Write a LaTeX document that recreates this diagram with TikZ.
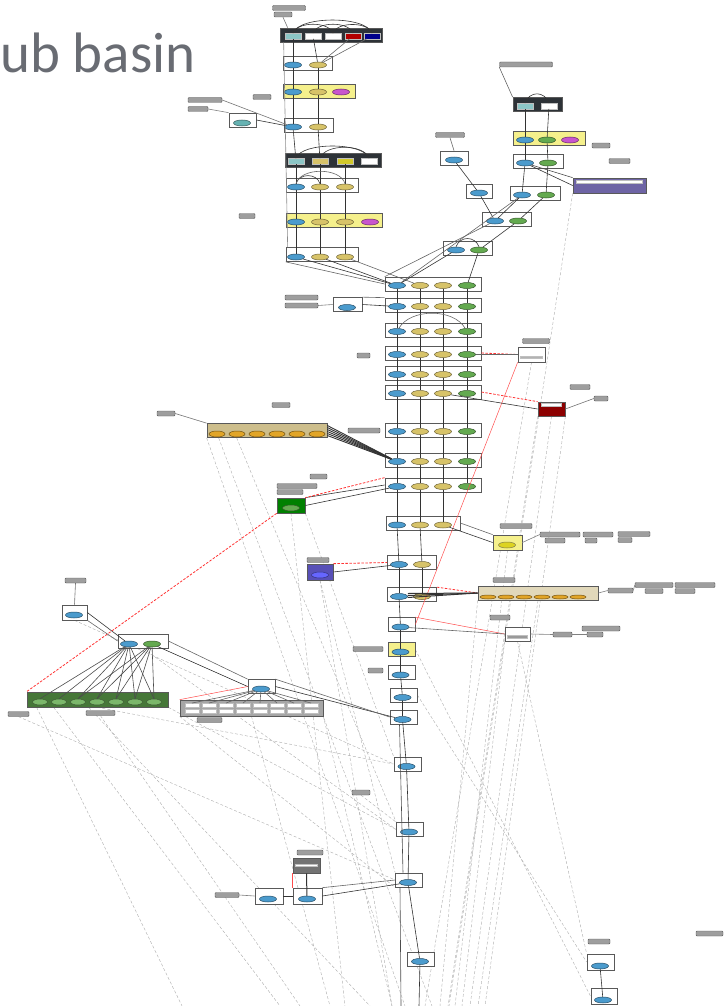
\documentclass[tikz,border=0pt]{standalone}
\usepackage{fontspec}
\setmainfont{Carlito}
\usepackage{xcolor}
\usetikzlibrary{shapes.geometric,backgrounds}

\definecolor{nodeblue}{RGB}{75,155,205}
\definecolor{nodeyel}{RGB}{215,195,105}
\definecolor{nodegrn}{RGB}{100,170,80}
\definecolor{nodemag}{RGB}{200,85,205}
\definecolor{nodeorg}{RGB}{225,165,40}
\definecolor{boxyel}{RGB}{245,240,140}
\definecolor{boxdark}{RGB}{45,50,55}
\definecolor{boxtan}{RGB}{205,190,140}
\definecolor{boxpurp}{RGB}{110,100,165}
\definecolor{titlegray}{RGB}{105,108,115}
\colorlet{nodeteal}{teal!60}
\colorlet{nodegrnl}{nodegrn!85!white}
\colorlet{nodeylw}{yellow!85!black}
\colorlet{nodeblu}{blue!60}

\begin{document}
\begin{tikzpicture}[x=1pt, y=-1pt,
    grp/.style={rectangle, draw=black!65, fill=white, line width=.7pt,
      minimum height=14pt, inner sep=0pt},
    ell/.style={ellipse, draw=#1!50!black, fill=#1, minimum width=17pt,
      minimum height=6pt, inner sep=0pt, line width=.5pt},
    sub/.style={rectangle, draw=black!25, fill=#1, minimum width=16pt,
      minimum height=5.5pt, inner sep=0pt},
    lbl/.style={rectangle, rounded corners=1pt, draw=black!65, fill=black!38,
      minimum width=#1, minimum height=5pt, inner sep=0pt, line width=.4pt},
    link/.style={draw=black!80, line width=.6pt},
    refl/.style={draw=red!80, dash pattern=on 2.5pt off 1.5pt, line width=.8pt},
    redl/.style={draw=red!70, line width=.5pt},
    ghost/.style={draw=black!30, dash pattern=on 3pt off 2pt, line width=.45pt}]

  \useasboundingbox (0,0) rectangle (725,1006);

  % title
  \node[anchor=base west, inner sep=0pt, text=titlegray,
    font=\fontsize{57}{60}\selectfont] (title) at (0,73) {ub basin};

  % top column
  \node[grp, fill=boxdark, minimum width=102pt] (t0) at (331,35) {};
  \foreach \i/\x/\c in {a/293/teal!45, b/313/white, c/333/white,
      d/353/red!70!black, e/372/blue!55!black}
    \node[sub=\c] (t0-\i) at (\x,36) {};
  \node[grp, minimum width=49pt] (t1) at (307.5,63.5) {};
  \node[ell=nodeblue] (t1-a) at (293,65) {};
  \node[ell=nodeyel] (t1-b) at (318,65) {};
  \node[grp, fill=boxyel, minimum width=72pt] (t2) at (319,91) {};
  \node[ell=nodeblue] (t2-a) at (293,92) {};
  \node[ell=nodeyel] (t2-b) at (318,92) {};
  \node[ell=nodemag] (t2-c) at (341,92) {};
  \node[grp, minimum width=49pt] (t3) at (308.5,125) {};
  \node[ell=nodeblue] (t3-a) at (293,127) {};
  \node[ell=nodeyel] (t3-b) at (318,127) {};
  \node[grp, fill=boxdark, minimum width=96pt] (t4) at (333,160) {};
  \foreach \i/\x/\c in {a/296/teal!45, b/320/nodeyel, c/345/yellow!80!black, d/369/white}
    \node[sub=\c] (t4-\i) at (\x,161) {};
  \node[grp, minimum width=72pt] (t5) at (322,185) {};
  \node[grp, fill=boxyel, minimum width=96pt] (t6) at (334,220.5) {};
  \node[grp, minimum width=72pt] (t7) at (322,254.5) {};
  \foreach \r/\y in {5/187, 6/222, 7/257} {
    \node[ell=nodeblue] (t\r-a) at (296,\y) {};
    \node[ell=nodeyel] (t\r-b) at (320,\y) {};
    \node[ell=nodeyel] (t\r-c) at (345,\y) {};
  }
  \node[ell=nodemag] (t6-d) at (370,222) {};

  \node[lbl=33] (tl1) at (289,8) {};
  \node[lbl=18] (tl2) at (283,14.5) {};
  \node[lbl=18] (tl3) at (262,97) {};
  \node[lbl=16] (tl4) at (247,216) {};
  \draw[link, black!55] (tl2.south) -- ([xshift=8pt]t0.north west);
  \draw[link, black!45] ([xshift=4pt]t0.south west) -- ([xshift=2pt]t7.north west);

  \draw[link] (t0-a) -- (t1-a);
  \draw[link] (t0-b) -- (t1-b);
  \draw[link, black!60] (t0-d) -- (t1-b);
  \draw[link, black!60] (t0-e) -- (t1-b);
  \foreach \p/\q in {1/2, 2/3, 3/4} {
    \draw[link] (t\p-a) -- (t\q-a);
    \draw[link] (t\p-b) -- (t\q-b);
  }
  \foreach \p/\q in {4/5, 5/6, 6/7} {
    \draw[link] (t\p-a) -- (t\q-a);
    \draw[link] (t\p-b) -- (t\q-b);
    \draw[link] (t\p-c) -- (t\q-c);
  }
  \draw[link] (t0-a.north) to[out=70, in=110, looseness=.6] (t0-e.north);
  \draw[link] (t0-a.north) to[out=70, in=110, looseness=.8] (t0-c.north);
  \draw[link] (t0-b.north) to[out=70, in=110, looseness=.8] (t0-d.north);
  \draw[link] (t0-c.north) to[out=70, in=110, looseness=.8] (t0-e.north);
  \draw[link] (t4-a.north) to[out=70, in=110, looseness=.6] (t4-d.north);
  \draw[link] (t4-b.north) to[out=70, in=110, looseness=.8] (t4-d.north);
  \draw[link] (t5-a.north) to[out=75, in=105, looseness=1.2] (t5-b.north);
  \draw[link, black!60] (t5-a.north) to[out=75, in=105, looseness=.9] (t5-c.north);

  % left of top column
  \node[grp, minimum width=27pt] (l1) at (242.5,120) {};
  \node[ell=nodeteal] (l1-a) at (242,123) {};
  \node[lbl=34] (ll1) at (205,100) {};
  \node[lbl=20] (ll2) at (198,109) {};
  \draw[link, black!50] (ll2.east) -- (l1.north west);
  \draw[link, black!55] (ll1.east) -- (t3-a);
  \draw[link] (l1.east) -- (t3-a);

  % right branch
  \node[lbl=53] (rl1) at (526,64.5) {};
  \node[grp, fill=boxdark, minimum width=49pt] (r0) at (537.5,104.5) {};
  \node[sub=teal!45] (r0-a) at (525,106) {};
  \node[sub=white] (r0-b) at (549,106) {};
  \node[grp, fill=boxyel, minimum width=72pt] (r1) at (549,138.5) {};
  \node[ell=nodeblue] (r1-a) at (525,140) {};
  \node[ell=nodegrn] (r1-b) at (547,140) {};
  \node[ell=nodemag] (r1-c) at (570,140) {};
  \node[grp, minimum width=50pt] (r2) at (538,161) {};
  \node[ell=nodeblue] (r2-a) at (525,163) {};
  \node[ell=nodegrn] (r2-b) at (548,163) {};
  \node[grp, minimum width=50pt] (r3) at (535,193.5) {};
  \node[ell=nodeblue] (r3-a) at (522,195) {};
  \node[ell=nodegrn] (r3-b) at (546,195) {};
  \node[grp, minimum width=49pt] (r4) at (506.5,219.5) {};
  \node[ell=nodeblue] (r4-a) at (495,221) {};
  \node[ell=nodegrn] (r4-b) at (518,221) {};
  \node[grp, minimum width=49pt] (r5) at (467.5,248.5) {};
  \node[ell=nodeblue] (r5-a) at (456,250) {};
  \node[ell=nodegrn] (r5-b) at (479,250) {};
  \node[lbl=29] (sl1) at (450,135) {};
  \node[grp, minimum width=28pt] (s1) at (454,158) {};
  \node[ell=nodeblue] (s1-a) at (454,160) {};
  \node[grp, minimum width=26pt] (s2) at (479,191.5) {};
  \node[ell=nodeblue] (s2-a) at (479,193) {};
  \node[grp, fill=boxpurp, minimum width=73pt, minimum height=15pt] (p1) at (609.5,185.5) {};
  \node[sub=white, minimum width=66pt, minimum height=3pt] (p1-s) at (609.5,182) {};
  \node[lbl=18] (rl2) at (601,145.5) {};
  \node[lbl=21] (rl3) at (619.5,161) {};

  \draw[link, black!60] (rl1.south west) -- (r0.north west);
  \draw[link] (r0-a.north) to[out=70, in=110, looseness=1.4] (r0-b.north);
  \foreach \p/\q in {0/1, 1/2, 2/3} {
    \draw[link] (r\p-a) -- (r\q-a);
    \draw[link] (r\p-b) -- (r\q-b);
  }
  \draw[link] (r3-a) -- (r4-a);
  \draw[link] (r3-b) -- (r4-b);
  \draw[link] (r4-b) -- (r5-b);
  \draw[link] (r5-a.north) to[out=70, in=110, looseness=1.3] (r5-b.north);
  \draw[link, black!60] (sl1.south) -- (s1.north);
  \draw[link] (s1-a) -- (s2-a);
  \draw[link] (s2-a) -- (r4-a);
  \draw[link] (r2-a) -- (p1.west);
  \draw[link, black!70] (r2-a) -- (p1.north west);

  % main column, upper rows
  \foreach \n/\y in {1/284, 2/305, 3/330, 4/353, 5/373, 6/392, 7/430, 8/460, 9/485} {
    \node[grp, minimum width=96pt] (m\n) at (433,\y) {};
    \node[ell=nodeblue] (m\n-a) at (397,\y+1.5) {};
    \node[ell=nodeyel] (m\n-b) at (420,\y+1.5) {};
    \node[ell=nodeyel] (m\n-c) at (443,\y+1.5) {};
    \node[ell=nodegrn] (m\n-d) at (467,\y+1.5) {};
  }
  \node[grp, minimum width=74pt] (m10) at (423,523) {};
  \node[ell=nodeblue] (m10-a) at (397,525) {};
  \node[ell=nodeyel] (m10-b) at (420,525) {};
  \node[ell=nodeyel] (m10-c) at (443,525) {};
  \foreach \n/\y in {11/562.5, 12/594.5} {
    \node[grp, minimum width=49pt] (m\n) at (412,\y) {};
    \node[ell=nodeblue] (m\n-a) at (399,\y+2) {};
    \node[ell=nodeyel] (m\n-b) at (422,\y+2) {};
  }
  % main column, lower rows
  \foreach \n/\x/\y/\c in {13/401.5/624.5/white, 14/401.5/649.5/boxyel,
      15/401.5/672.5/white, 16/403.5/695/white, 17/403.5/717/white,
      18/407.5/764/white, 19/410/829.5/white, 20/409/880/white, 21/421/959/white} {
    \node[grp, fill=\c, minimum width=27pt] (m\n) at (\x,\y) {};
    \node[ell=nodeblue] (m\n-a) at (\x-1,\y+2.5) {};
  }

  \foreach \p/\q in {1/2, 2/3, 3/4, 4/5, 5/6, 6/7, 7/8, 8/9, 9/10} {
    \draw[link] (m\p-a) -- (m\q-a);
    \draw[link] (m\p-b) -- (m\q-b);
    \draw[link] (m\p-c) -- (m\q-c);
  }
  \foreach \p/\q in {1/2, 2/3, 3/4, 4/5, 5/6, 6/7, 7/8, 8/9}
    \draw[link] (m\p-d) -- (m\q-d);
  \foreach \p/\q in {10/11, 11/12, 12/13, 13/14, 14/15, 15/16, 16/17,
      17/18, 18/19, 19/20, 20/21}
    \draw[link] (m\p-a) -- (m\q-a);
  \draw[link] (m10-b) -- (m11-b);
  \draw[link] (m11-b) -- (m12-b);
  \draw[link, black!70] ([xshift=-4pt]m17.south) -- ([xshift=-6pt]m20.north);
  \draw[link, black!70] ([xshift=-9pt]m20.south) -- (401,1006);
  \draw[link] (m21-a) -- (419,1006);
  \draw[link, black!60] (m3-a) to[out=60, in=120, looseness=.9] (m3-d);

  % top column and right branch into main column
  \draw[link] (t7-a) -- (m1-a);
  \draw[link] (t7-b) -- (m1-a);
  \draw[link, black!60] (t7-c) -- (m1-b);
  \draw[link, black!60] (t7.south west) -- (m1.west);
  \draw[link, black!60] (r3-a) -- (m1-a);
  \draw[link, black!60] (r4-a) -- (m1.north west);
  \draw[link] (r5-a) -- (m1-a);
  \draw[link] (r5-b) -- (m1-d);

  % side nodes of the main column
  \node[lbl=33] (ml1) at (301.5,297.5) {};
  \node[lbl=33] (ml2) at (301.5,305.5) {};
  \node[grp, minimum width=29pt] (sm1) at (347.5,304.5) {};
  \node[ell=nodeblue] (sm1-a) at (347,307.5) {};
  \draw[link] (sm1.east) -- (m2-a);
  \draw[link, black!60] (sm1.north east) -- (m2.north west);
  \draw[link, black!50] (ml2.east) -- (sm1.west);
  \node[lbl=13] (ml3) at (363.5,355.5) {};

  \node[lbl=27] (wl1) at (536,341) {};
  \node[grp, minimum width=27pt, minimum height=15pt] (w1) at (531.5,354.5) {};
  \node[sub=black!30, minimum width=22pt, minimum height=2pt] (w1-s) at (531.5,357) {};
  \draw[refl] (m4.east) -- (w1.west);
  \draw[link, black!60] (m4-d) -- (w1.west);
  \draw[redl] (w1.south west) -- (m13.east);

  \node[lbl=20] (rl4) at (580,387) {};
  \node[grp, fill=red!55!black, minimum width=27pt] (rb) at (551.5,409) {};
  \node[sub=white, minimum width=20pt, minimum height=3pt] (rb-s) at (551.5,405) {};
  \node[lbl=14] (rl5) at (601,398.5) {};
  \draw[refl] (m6.east) -- (rb.north west);
  \draw[link] (m6-c) -- (rb.west);
  \draw[link, black!55] (rb.east) -- (rl5.west);

  \node[lbl=18] (ol1) at (166,413.5) {};
  \node[lbl=18] (ol2) at (281,405) {};
  \node[lbl=32] (ol3) at (364,430.5) {};
  \node[grp, fill=boxtan, minimum width=120pt] (o1) at (267,430.5) {};
  \foreach \i in {1,...,6}
    \node[ell=nodeorg, minimum width=16pt] (o1-\i) at (197+20*\i,434) {};
  \draw[link, black!55] (ol1.east) -- (o1.north west);
  \foreach \s in {-5,-3,...,5}
    \draw[link, line width=.9pt] ([yshift=\s pt]o1.east) -- (m8-a);

  \node[lbl=17] (gl1) at (318.5,476.5) {};
  \node[lbl=40] (gl2) at (297,486) {};
  \node[lbl=26] (gl3) at (290,492) {};
  \node[grp, fill=green!50!black, minimum width=28pt, minimum height=15pt] (g1) at (291,505.5) {};
  \node[ell=nodegrn] (g1-a) at (291,508) {};
  \draw[link] (g1.east) -- (m9-a);
  \draw[link] (g1.north east) -- (m9.west);
  \draw[refl] (m9.north west) -- (g1.north east);

  \node[lbl=32] (yl1) at (516,526) {};
  \node[grp, fill=boxyel, minimum width=29pt, minimum height=15pt] (y1) at (507.5,542.5) {};
  \node[ell=nodeylw] (y1-a) at (507,545) {};
  \draw[link] (m10-c) -- (y1.west);
  \draw[link, black!60] (m10.east) -- (y1.north west);
  \foreach \n/\x/\y/\w in {1/560/534.5/40, 2/555/540.5/20, 3/598/534.5/30,
      4/591/540.5/12, 5/634/534/32, 6/625/540/14}
    \node[lbl=\w] (yr\n) at (\x,\y) {};
  \draw[link, black!50] (y1.east) -- (yr1.west);

  \node[lbl=22] (pl1) at (318,560) {};
  \node[grp, fill=boxpurp!80!blue, minimum width=26pt, minimum height=16pt] (pb) at (320,572) {};
  \node[ell=nodeblu] (pb-a) at (320,575) {};
  \draw[refl] (pb.north east) -- (m11.west);
  \draw[link] (pb.east) -- (m11-a);

  \node[lbl=22] (ql1) at (504,580) {};
  \node[grp, fill=boxtan!60, minimum width=120pt] (o2) at (538,593) {};
  \foreach \i in {1,...,6}
    \node[ell=nodeorg, minimum width=16pt, minimum height=4pt] (o2-\i) at (470+18*\i,597) {};
  \foreach \n/\x/\y/\w in {1/620.5/590.5/25, 2/654/585/38, 3/654/591/18,
      4/695/585/40, 5/685/591/20}
    \node[lbl=\w] (or\n) at (\x,\y) {};
  \draw[link, black!50] (o2.east) -- (or1.west);
  \draw[link, black!50] (or1.east) -- (or2.west);
  \draw[refl] (m12.north east) -- (o2.west);
  \foreach \s in {-1,1,3}
    \draw[link, line width=1pt] ([yshift=\s pt]m12-a.east) -- (o2.west);

  \node[lbl=20] (bl1) at (500,617.5) {};
  \node[grp, minimum width=25pt] (b2) at (517.5,634) {};
  \node[sub=black!40, minimum width=20pt, minimum height=3pt] (b2-s) at (517.5,637) {};
  \node[lbl=19] (bl2) at (562.5,634.5) {};
  \node[lbl=38] (bl3) at (601,628.5) {};
  \node[lbl=16] (bl4) at (595,634.5) {};
  \draw[redl] (m13.north east) -- (b2.west);
  \draw[link, black!60] (m13-a) -- (b2.west);
  \draw[link, black!50] (b2.east) -- (bl2.west);
  \draw[link, black!50] (bl2.east) -- (bl4.west);

  \node[lbl=30] (ml4) at (368,649) {};
  \node[lbl=15] (ml5) at (375.5,670.5) {};
  \node[lbl=18] (ml6) at (361,792.5) {};

  % left cluster
  \node[lbl=21] (cl1) at (75.5,580.5) {};
  \node[grp, minimum width=25pt, minimum height=15pt] (lc1) at (74.5,612.5) {};
  \node[ell=nodeblue] (lc1-a) at (74,615) {};
  \node[grp, minimum width=50pt] (lc2) at (143,641) {};
  \node[ell=nodeblue] (lc2-a) at (129,644) {};
  \node[ell=nodegrn] (lc2-b) at (152,644) {};
  \node[grp, fill=nodegrn!70!black, minimum width=141pt, minimum height=15pt] (gw) at (97.5,699.5) {};
  \foreach \i in {0,...,6}
    \node[ell=nodegrnl, minimum width=15pt] (gw-\i) at (40+19*\i,702) {};
  \node[lbl=21] (cl2) at (18.5,714) {};
  \node[lbl=29] (cl3) at (100.5,713) {};
  \node[grp, minimum width=27pt] (lc3) at (261.5,686.5) {};
  \node[ell=nodeblue] (lc3-a) at (261,689) {};
  \node[grp, fill=black!35, minimum width=143pt, minimum height=16pt] (gr) at (251.5,708) {};
  \foreach \i in {0,...,7} {
    \node[sub=white, minimum width=14pt, minimum height=3.5pt] (gr-\i) at (192+17*\i,705) {};
    \node[sub=white, minimum width=14pt, minimum height=3.5pt] (gr-\i b) at (192+17*\i,711) {};
  }
  \node[lbl=25] (cl4) at (209.5,720) {};

  \draw[link, black!55] (cl1.south) -- (lc1.north);
  \draw[link] (lc1.east) -- (lc2-a);
  \draw[link, black!60] (lc1.south east) -- (lc2.west);
  \foreach \i in {0,...,6}
    \draw[link, black!70] (lc2-a) -- (gw-\i.north);
  \foreach \i in {2,...,6}
    \draw[link, black!70] (lc2-b) -- (gw-\i.north);
  \draw[link] (lc2-b) -- (lc3.west);
  \draw[link, black!60] (lc2.east) -- (lc3.north west);
  \draw[link] (lc3.east) -- (m17-a);
  \draw[link, black!60] (lc3.north east) -- (m17.west);
  \foreach \i in {0,...,7}
    \draw[link, black!60] (lc3-a) -- (gr-\i.north);
  \draw[redl] (lc3.west) -- (gr.north west);
  \draw[refl] (g1.south west) -- (gw.north west);

  % lower left
  \node[lbl=26] (dl1) at (310,852.5) {};
  \node[grp, fill=black!55, minimum width=27pt, minimum height=15pt] (ll0) at (306.5,865.5) {};
  \node[sub=white, minimum width=22pt, minimum height=2.5pt] (ll0-s) at (306.5,865) {};
  \node[grp, minimum width=28pt, minimum height=16pt] (lw1) at (269,896) {};
  \node[ell=nodeblue] (lw1-a) at (268,899) {};
  \node[grp, minimum width=29pt, minimum height=16pt] (lw2) at (307.5,896) {};
  \node[ell=nodeblue] (lw2-a) at (307,899) {};
  \node[lbl=24] (dl2) at (227,895) {};
  \draw[link, line width=1pt] (ll0.south) -- (lw2-a);
  \draw[redl] (ll0.south west) -- (lw2.north west);
  \draw[link] (lw1.east) -- (lw2.west);
  \draw[link, black!50] (dl2.east) -- (lw1.west);
  \draw[link] (lw2.east) -- (m20-a);
  \draw[link, black!60] (lw2.north east) -- (m20.west);

  % lower right
  \node[lbl=22] (el1) at (599,941.5) {};
  \node[grp, minimum width=27pt, minimum height=16pt] (br1) at (600.5,962) {};
  \node[ell=nodeblue] (br1-a) at (600,966) {};
  \node[grp, minimum width=26pt, minimum height=16pt] (br2) at (604,996.5) {};
  \node[ell=nodeblue] (br2-a) at (603,1000) {};
  \node[lbl=27] (el2) at (709.5,933.5) {};
  \draw[link] (br1-a) -- (br2-a);

  % faint references down the page
  \begin{pgfonlayer}{background}
    \foreach \x in {182,280,300,330,345,370,392,405,425,432,440,448,449,455,462,470,478,485}
      \coordinate (b\x) at (\x,1006);
    \draw[ghost] ([xshift=10pt]gw.south west) -- (b182);
    \draw[ghost] ([xshift=27pt]gw.south west) -- (b280);
    \draw[ghost] ([xshift=62pt]gw.south west) -- (b370);
    \draw[ghost] (gw.south) -- (m18.west);
    \draw[ghost] (gw.south east) -- (m19.west);
    \draw[ghost] (cl2.south) -- (m20.west);
    \draw[ghost] (cl3.south) -- (b300);
    \draw[ghost] (o1.south west) -- (b405);
    \draw[ghost] ([xshift=12pt]o1.south west) -- (b432);
    \draw[ghost] ([xshift=30pt]o1.south west) -- (m19.north west);
    \draw[ghost] (gr.south) -- (b330);
    \draw[ghost] (gr.south east) -- (b392);
    \draw[ghost] (gr.south west) -- (m20.south west);
    \draw[ghost] (pb.south) -- (b392);
    \draw[ghost] (pb.south) -- (m20.north west);
    \draw[ghost] (g1.south) -- (b345);
    \draw[ghost] (g1.south east) -- (m18.north west);
    \draw[ghost] (p1.south west) -- (b449);
    \draw[ghost] (rb.south west) -- (b448);
    \draw[ghost] (rb.south) -- (b470);
    \draw[ghost] (rb.south east) -- (b485);
    \draw[ghost] (w1.south) -- (b425);
    \draw[ghost] (y1.south) -- (b455);
    \draw[ghost] (o2.south west) -- (b440);
    \draw[ghost] (o2.south) -- (b478);
    \draw[ghost] (b2.south) -- (br1.north west);
    \draw[ghost] (b2.south west) -- (b462);
    \draw[ghost] (m14.east) -- (br2.west);
    \draw[ghost] (m16.east) -- (br1.west);
    \draw[ghost] (lc1.south) -- (m18.west);
    \draw[ghost] (lc2.south) -- (m19.west);
    \draw[ghost] (ml6.south) -- (m19.north west);
  \end{pgfonlayer}
\end{tikzpicture}
\end{document}
